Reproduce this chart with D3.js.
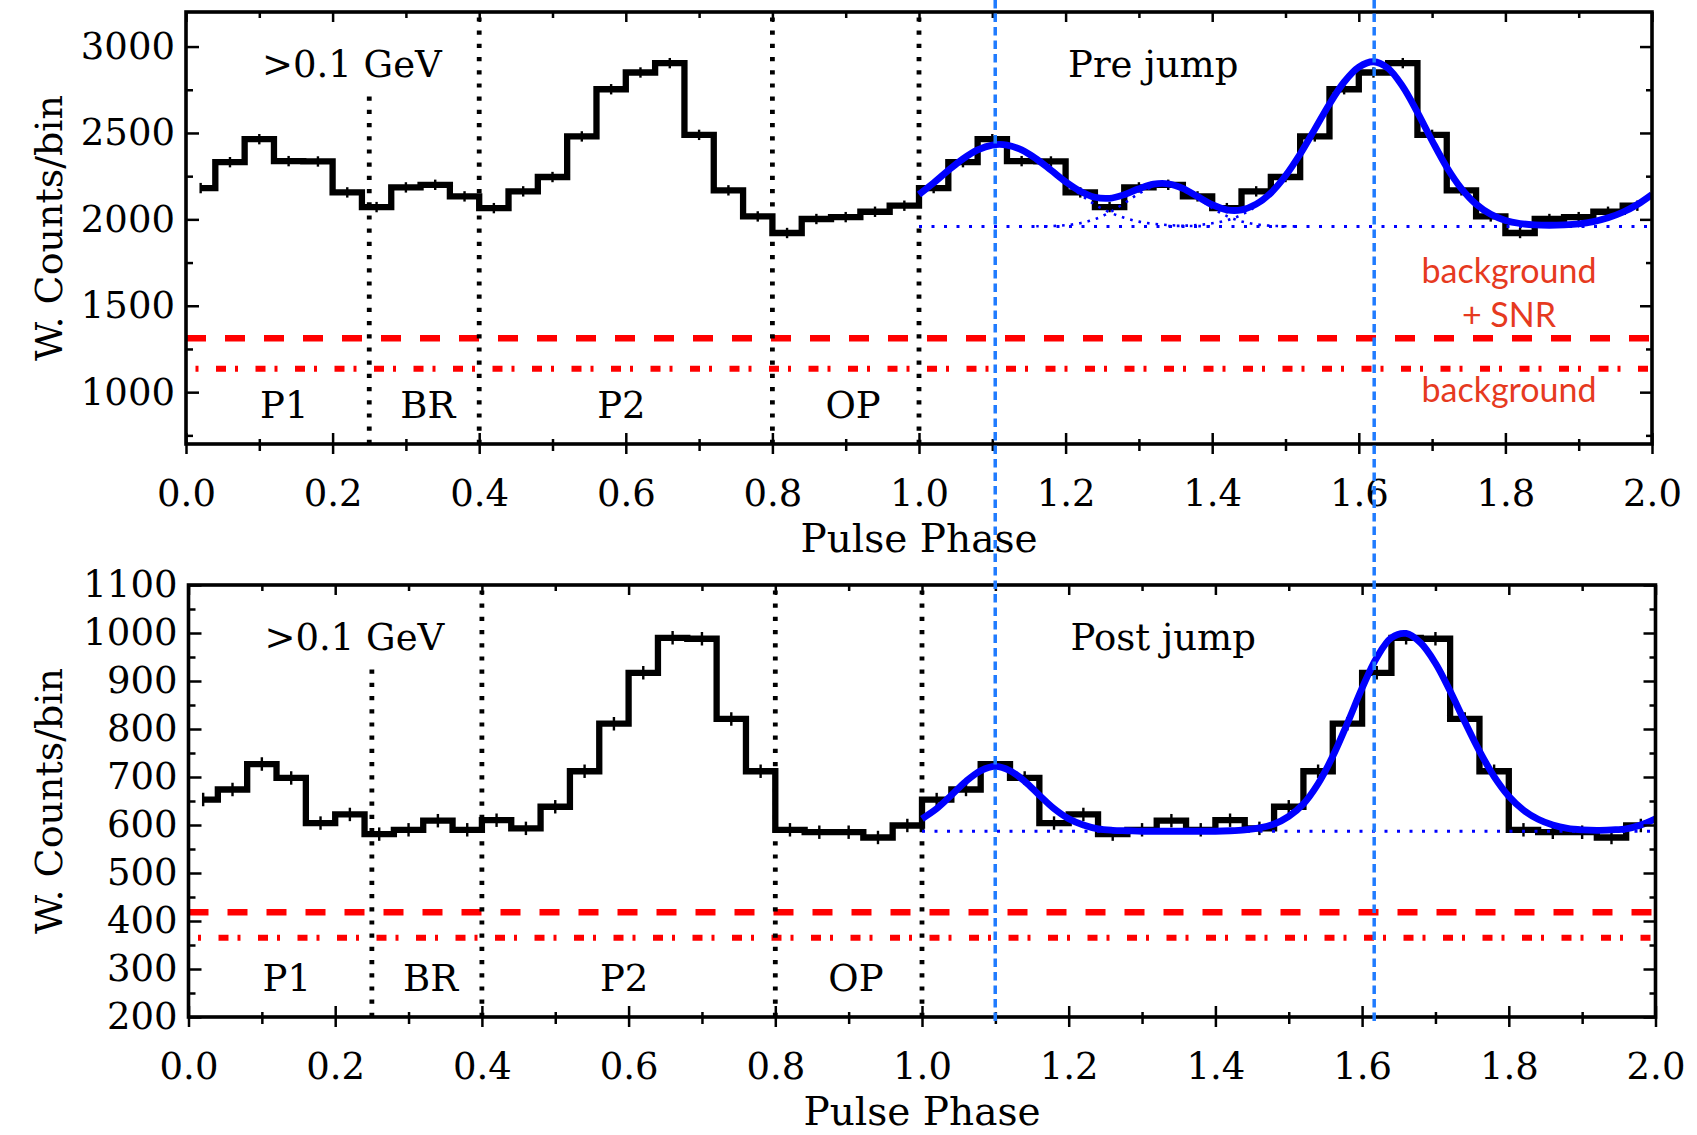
<!DOCTYPE html>
<html>
<head>
<meta charset="utf-8">
<title>Pulse profiles before and after the jump</title>
<script src="https://cdn.jsdelivr.net/npm/d3@7/dist/d3.min.js"></script>
<style>
  html, body { margin: 0; padding: 0; background: #fff; }
  svg { display: block; }
</style>
</head>
<body>
<svg id="fig" width="1697" height="1135"></svg>
<script>
// ---------------- data ----------------
// phase-bin centres of one rotation (bin width 0.04); the profile is shown twice
const binCenters = [0.02,0.06,0.10,0.14,0.18,0.22,0.26,0.30,0.34,0.38,0.42,0.46,0.50,
                    0.54,0.58,0.62,0.66,0.70,0.74,0.78,0.82,0.86,0.90,0.94,0.98];
const preCounts  = [2181,2331,2464,2337,2335,2156,2071,2185,2200,2133,2065,2162,2245,
                    2480,2753,2850,2904,2489,2168,2017,1921,2002,2013,2044,2079];
const postCounts = [653,674,727,698,604,622,581,590,609,590,610,593,638,
                    712,811,917,990,988,821,712,590,585,585,574,599];
const preError  = 30;
const postError = 14;

// phase-region boundaries and names
const regionEdges   = [0.25, 0.4, 0.8, 1.0];
const regionNames   = ["P1", "BR", "P2", "OP"];
const regionCentres = [0.134, 0.33, 0.594, 0.91];

// fitted peak positions (marked across both panels)
const peakPhases = [1.104, 1.621];

// fitted light curve, second rotation
const fitPhase = [1.00,1.02,1.04,1.06,1.08,1.10,1.12,1.14,1.16,1.18,1.20,1.22,1.24,1.26,1.28,1.30,1.32,
                  1.34,1.36,1.38,1.40,1.42,1.44,1.46,1.48,1.50,1.52,1.54,1.56,1.58,1.60,1.62,1.64,1.66,
                  1.68,1.70,1.72,1.74,1.76,1.78,1.80,1.82,1.84,1.86,1.88,1.90,1.92,1.94,1.96,1.98,2.00];
const preFit  = [2144,2211,2283,2350,2402,2430,2430,2402,2350,2285,2218,2163,2128,2122,2143,2177,2204,
                 2206,2180,2132,2085,2055,2055,2088,2153,2252,2378,2522,2668,2795,2881,2912,2874,2768,
                 2619,2455,2302,2178,2088,2029,1994,1976,1968,1966,1968,1974,1987,2009,2041,2086,2144];
const postFit = [613,634,662,691,713,722,713,691,662,634,613,600,592,589,588,587,587,
                 587,587,587,587,588,590,594,602,618,644,686,743,812,885,949,990,999,
                 979,937,879,815,754,701,660,631,612,600,593,590,589,590,592,600,613];
const preFitBase  = 1959;
const postFitBase = 587;

// individual fit components (pre jump), [phase, counts]
const preComponentA = [[1.00,2144],[1.02,2211],[1.04,2283],[1.06,2350],[1.08,2402],[1.10,2430],[1.12,2430],
                       [1.14,2402],[1.16,2350],[1.18,2283],[1.20,2211],[1.22,2144],[1.24,2086],[1.26,2041],
                       [1.28,2009],[1.30,1987],[1.32,1974],[1.34,1967],[1.36,1963],[1.38,1961],[1.40,1960]];
const preComponentB = [[1.16,1960],[1.18,1961],[1.20,1966],[1.22,1978],[1.24,2001],[1.26,2040],[1.28,2093],
                       [1.30,2149],[1.32,2189],[1.34,2198],[1.36,2172],[1.38,2122],[1.40,2066],[1.42,2019],
                       [1.44,1988],[1.46,1971],[1.48,1963],[1.50,1960],[1.52,1959]];
const preComponentC = [[1.34,1961],[1.36,1963],[1.38,1967],[1.40,1977],[1.42,1995],[1.44,2026],[1.46,2076],
                       [1.48,2149],[1.50,2251],[1.52,2378],[1.54,2522],[1.56,2668],[1.58,2795],[1.60,2881],
                       [1.62,2912],[1.64,2874],[1.66,2768],[1.68,2619],[1.70,2455],[1.72,2302],[1.74,2178],
                       [1.76,2088],[1.78,2029],[1.80,1994],[1.82,1975],[1.84,1966],[1.86,1962],[1.88,1960],[1.90,1959]];

// background levels
const preSnrLevel  = 1312;
const preBkgLevel  = 1135;
const postSnrLevel = 418;
const postBkgLevel = 365;

// axis ticks
const phaseTicks      = [0,0.2,0.4,0.6,0.8,1.0,1.2,1.4,1.6,1.8,2.0];
const phaseMinorTicks = [0.1,0.3,0.5,0.7,0.9,1.1,1.3,1.5,1.7,1.9];
const preCountTicks   = [1000,1500,2000,2500,3000];
const preCountMinor   = [750,1250,1750,2250,2750];
const postCountTicks  = [200,300,400,500,600,700,800,900,1000,1100];
const postCountMinor  = [250,350,450,550,650,750,850,950,1050];

// ---------------- drawing ----------------
const SERIF = "'DejaVu Serif', serif";
const SANS  = "Lato, 'Open Sans', sans-serif";
const svg = d3.select("#fig");
svg.append("rect").attr("width", 1697).attr("height", 1135).attr("fill", "#fff");
const defs = svg.append("defs");

const panels = [
  { id: "pre", left: 186, right: 1652, top: 12, bottom: 444, yDomain: [700, 3200],
    counts: preCounts, err: preError, fit: preFit, base: preFitBase,
    components: [preComponentA, preComponentB, preComponentC],
    snr: preSnrLevel, bkg: preBkgLevel, yTicks: preCountTicks, yMinor: preCountMinor,
    title: "Pre jump", redLabels: true },
  { id: "post", left: 188.5, right: 1655.5, top: 585, bottom: 1017, yDomain: [200, 1100],
    counts: postCounts, err: postError, fit: postFit, base: postFitBase,
    components: [],
    snr: postSnrLevel, bkg: postBkgLevel, yTicks: postCountTicks, yMinor: postCountMinor,
    title: "Post jump", redLabels: false }
];

const scales = [];

panels.forEach(p => {
  const x = d3.scaleLinear().domain([0, 2]).range([p.left, p.right]);
  const y = d3.scaleLinear().domain(p.yDomain).range([p.bottom, p.top]);
  scales.push({ x, y });
  const h = p.bottom - p.top;

  defs.append("clipPath").attr("id", "clip-" + p.id)
    .append("rect").attr("x", p.left).attr("y", p.top)
    .attr("width", p.right - p.left).attr("height", h);

  const g = svg.append("g");
  const plot = g.append("g").attr("clip-path", `url(#clip-${p.id})`);

  // background (+SNR) levels
  plot.append("line")
    .attr("x1", x(0)).attr("x2", x(2)).attr("y1", y(p.snr)).attr("y2", y(p.snr))
    .attr("stroke", "#ff0000").attr("stroke-width", 6.5).attr("stroke-dasharray", "20,19");
  plot.append("line")
    .attr("x1", x(0)).attr("x2", x(2)).attr("y1", y(p.bkg)).attr("y2", y(p.bkg))
    .attr("stroke", "#ff0000").attr("stroke-width", 6).attr("stroke-dasharray", "10,9,3,17.5")
    .attr("stroke-dashoffset", -30);

  // phase-region boundaries
  regionEdges.forEach((e, i) => {
    const yTop = i === 0 ? p.bottom - 0.81 * h : p.top;
    plot.append("line")
      .attr("x1", x(e)).attr("x2", x(e)).attr("y1", p.bottom).attr("y2", yTop)
      .attr("stroke", "#000").attr("stroke-width", 4.8).attr("stroke-dasharray", "4.2,9");
  });

  // light curve, two rotations, as a mid-step histogram
  const pts = binCenters.map((c, i) => [c, p.counts[i]])
    .concat(binCenters.map((c, i) => [c + 1, p.counts[i]]));
  plot.append("path")
    .attr("d", d3.line().x(d => x(d[0])).y(d => y(d[1])).curve(d3.curveStep)(pts))
    .attr("fill", "none").attr("stroke", "#000").attr("stroke-width", 6.3)
    .attr("stroke-linejoin", "miter");
  plot.selectAll(null).data(pts).join("line")
    .attr("x1", d => x(d[0])).attr("x2", d => x(d[0]))
    .attr("y1", d => y(d[1] - p.err)).attr("y2", d => y(d[1] + p.err))
    .attr("stroke", "#000").attr("stroke-width", 2.4);

  // fit: constant level and components (dotted), total (solid)
  plot.append("line")
    .attr("x1", x(1)).attr("x2", x(2)).attr("y1", y(p.base)).attr("y2", y(p.base))
    .attr("stroke", "#0000ff").attr("stroke-width", 3).attr("stroke-dasharray", "3,9.5");
  const compLine = d3.line().x(d => x(d[0])).y(d => y(d[1])).curve(d3.curveCatmullRom);
  p.components.forEach(c => {
    plot.append("path").attr("d", compLine(c))
      .attr("fill", "none").attr("stroke", "#0000ff").attr("stroke-width", 2.6)
      .attr("stroke-dasharray", "2.6,6");
  });
  const fitPts = fitPhase.map((ph, i) => [ph, p.fit[i]]);
  plot.append("path")
    .attr("d", d3.line().x(d => x(d[0])).y(d => y(d[1])).curve(d3.curveCatmullRom)(fitPts))
    .attr("fill", "none").attr("stroke", "#0000ff").attr("stroke-width", 6.8)
    .attr("stroke-linecap", "butt");

  // annotations
  g.append("text").attr("x", p.left + 76).attr("y", p.top + 65)
    .attr("font-family", SERIF).attr("font-size", 37).text(">0.1 GeV");
  g.append("text").attr("x", p.left + 882).attr("y", p.top + 65)
    .attr("font-family", SERIF).attr("font-size", 37).text(p.title);
  regionNames.forEach((n, i) => {
    g.append("text").attr("x", x(regionCentres[i])).attr("y", p.bottom - 26)
      .attr("text-anchor", "middle").attr("font-family", SERIF).attr("font-size", 37).text(n);
  });
  if (p.redLabels) {
    const red = g.append("g").attr("font-family", SANS).attr("font-size", 34)
      .attr("fill", "#e63a1f").attr("text-anchor", "middle");
    red.append("text").attr("x", 1509).attr("y", y(p.snr) - 55).text("background");
    red.append("text").attr("x", 1509).attr("y", y(p.snr) - 11).text("+ SNR");
    red.append("text").attr("x", 1509).attr("y", y(p.bkg) + 33).text("background");
  }

  // axes: ticks on all four sides
  const styleTicks = sel => {
    sel.select(".domain").remove();
    sel.selectAll(".tick line").attr("stroke", "#000").attr("stroke-width", 2.5);
  };
  const noLabel = () => "";
  // bottom, outward part with labels
  const xb = g.append("g").attr("transform", `translate(0,${p.bottom})`)
    .call(d3.axisBottom(x).tickValues(phaseTicks).tickSize(10).tickFormat(d3.format(".1f")))
    .call(styleTicks);
  xb.attr("font-family", SERIF).attr("font-size", 37);
  xb.selectAll("text").attr("y", 62).attr("dy", null).attr("fill", "#000");
  g.append("g").attr("transform", `translate(0,${p.bottom})`)
    .call(d3.axisBottom(x).tickValues(phaseMinorTicks).tickSize(7).tickFormat(noLabel)).call(styleTicks);
  // bottom, inward part
  g.append("g").attr("transform", `translate(0,${p.bottom})`)
    .call(d3.axisTop(x).tickValues(phaseTicks).tickSize(11).tickFormat(noLabel)).call(styleTicks);
  g.append("g").attr("transform", `translate(0,${p.bottom})`)
    .call(d3.axisTop(x).tickValues(phaseMinorTicks).tickSize(5).tickFormat(noLabel)).call(styleTicks);
  // top, inward
  g.append("g").attr("transform", `translate(0,${p.top})`)
    .call(d3.axisBottom(x).tickValues(phaseTicks).tickSize(10).tickFormat(noLabel)).call(styleTicks);
  g.append("g").attr("transform", `translate(0,${p.top})`)
    .call(d3.axisBottom(x).tickValues(phaseMinorTicks).tickSize(6).tickFormat(noLabel)).call(styleTicks);
  // left, inward ticks and labels
  g.append("g").attr("transform", `translate(${p.left},0)`)
    .call(d3.axisRight(y).tickValues(p.yTicks).tickSize(13).tickFormat(noLabel)).call(styleTicks);
  g.append("g").attr("transform", `translate(${p.left},0)`)
    .call(d3.axisRight(y).tickValues(p.yMinor).tickSize(7).tickFormat(noLabel)).call(styleTicks);
  const yl = g.append("g").attr("transform", `translate(${p.left},0)`)
    .call(d3.axisLeft(y).tickValues(p.yTicks).tickSize(0).tickPadding(11).tickFormat(d3.format("d")))
    .call(styleTicks);
  yl.attr("font-family", SERIF).attr("font-size", 37);
  yl.selectAll("text").attr("fill", "#000");
  // right, inward
  g.append("g").attr("transform", `translate(${p.right},0)`)
    .call(d3.axisLeft(y).tickValues(p.yTicks).tickSize(12).tickFormat(noLabel)).call(styleTicks);
  g.append("g").attr("transform", `translate(${p.right},0)`)
    .call(d3.axisLeft(y).tickValues(p.yMinor).tickSize(6).tickFormat(noLabel)).call(styleTicks);

  // frame
  g.append("rect").attr("x", p.left).attr("y", p.top)
    .attr("width", p.right - p.left).attr("height", h)
    .attr("fill", "none").attr("stroke", "#000").attr("stroke-width", 3.6);

  // axis titles
  g.append("text").attr("x", (p.left + p.right) / 2).attr("y", p.bottom + 108)
    .attr("text-anchor", "middle").attr("font-family", SERIF).attr("font-size", 39)
    .text("Pulse Phase");
  g.append("text")
    .attr("transform", `translate(62,${(p.top + p.bottom) / 2}) rotate(-90)`)
    .attr("text-anchor", "middle").attr("font-family", SERIF).attr("font-size", 38)
    .text("W. Counts/bin");
});

// peak positions, drawn across both panels
const xPeak = scales[0].x;
svg.append("g").selectAll("line").data(peakPhases).join("line")
  .attr("x1", d => xPeak(d)).attr("x2", d => xPeak(d))
  .attr("y1", 0).attr("y2", panels[1].bottom + 6)
  .attr("stroke", "#1f7bff").attr("stroke-width", 3.5).attr("stroke-dasharray", "8.5,5");
</script>
</body>
</html>
